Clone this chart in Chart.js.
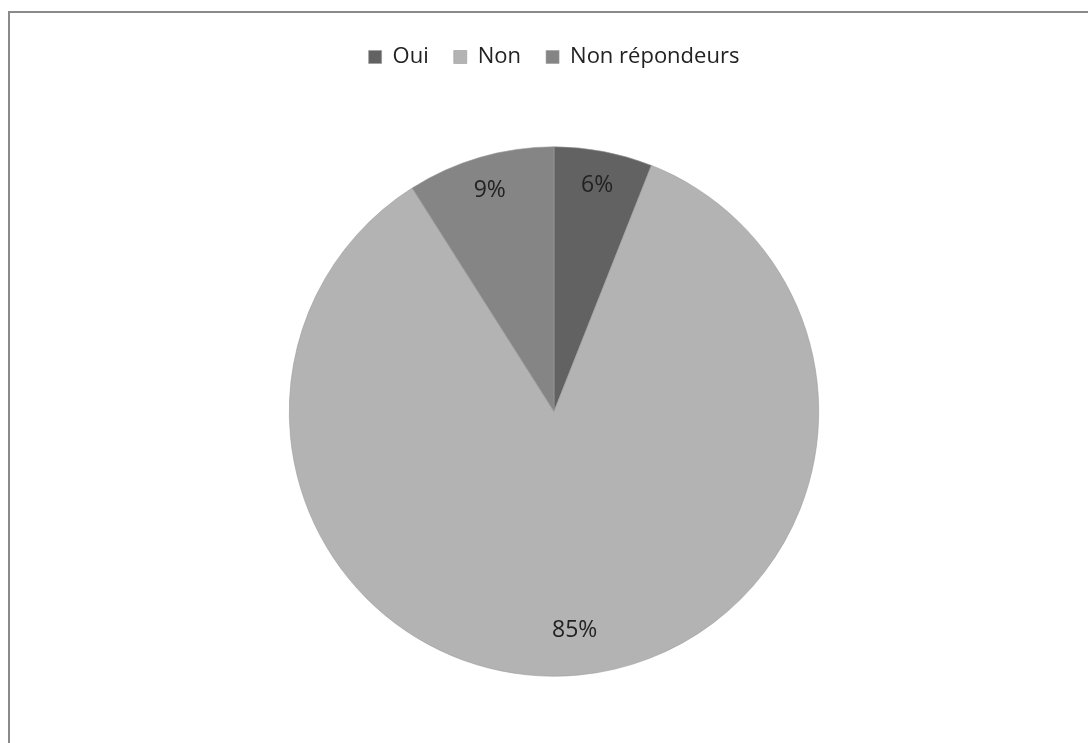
<!DOCTYPE html>
<html>
<head>
<meta charset="utf-8">
<script src="https://cdn.jsdelivr.net/npm/chart.js@4/dist/chart.umd.min.js"></script>
<style>
  html, body { margin: 0; padding: 0; background: #fff; overflow: hidden; }
  #frame {
    position: absolute; left: 8px; top: 11px; width: 1200px; height: 900px;
    border-top: 2px solid #8a8a8a; border-left: 2px solid #8a8a8a;
  }
  #wrap { position: absolute; left: 0; top: 0; width: 1088px; height: 743px; }
</style>
</head>
<body>
<div id="frame"></div>
<div id="wrap"><canvas id="pieChart"></canvas></div>
<script>
const labels = ["Oui", "Non", "Non répondeurs"];
const values = [6, 85, 9];
const colors = ["#626262", "#b3b3b3", "#858585"];

const fontFamily = "'Open Sans', 'Noto Sans', sans-serif";

// push the pie down below the legend
const legendGap = {
  id: "legendGap",
  beforeInit(chart) {
    const fit = chart.legend.fit;
    chart.legend.fit = function () {
      fit.bind(chart.legend)();
      this.height += 66;
    };
  },
};

// percentage labels inside each slice
const sliceLabels = {
  id: "sliceLabels",
  afterDatasetsDraw(chart) {
    const ctx = chart.ctx;
    const meta = chart.getDatasetMeta(0);
    ctx.save();
    ctx.font = "23px " + fontFamily;
    ctx.fillStyle = "#222";
    ctx.textAlign = "center";
    ctx.textBaseline = "middle";
    meta.data.forEach((arc, i) => {
      const p = arc.getProps(["x", "y", "startAngle", "endAngle", "outerRadius"], true);
      const mid = (p.startAngle + p.endAngle) / 2;
      const r = p.outerRadius * (values[i] > 50 ? 0.83 : 0.87);
      ctx.fillText(values[i] + "%", p.x + Math.cos(mid) * r, p.y + Math.sin(mid) * r);
    });
    ctx.restore();
  },
};

const el = document.getElementById("pieChart").getContext("2d");
new Chart(el, {
  type: "pie",
  data: {
    labels: labels,
    datasets: [
      {
        data: values,
        backgroundColor: colors,
        borderColor: "#9a9a9a",
        borderWidth: 0.6,
      },
    ],
  },
  options: {
    responsive: true,
    maintainAspectRatio: false,
    animation: false,
    layout: { padding: { left: 289, right: 269, top: 21, bottom: 64 } },
    plugins: {
      tooltip: { enabled: false },
      legend: {
        display: true,
        position: "top",
        labels: {
          boxWidth: 13,
          boxHeight: 13,
          padding: 25,
          color: "#222",
          font: { family: fontFamily, size: 22 },
        },
      },
    },
  },
  plugins: [legendGap, sliceLabels],
});
</script>
</body>
</html>
